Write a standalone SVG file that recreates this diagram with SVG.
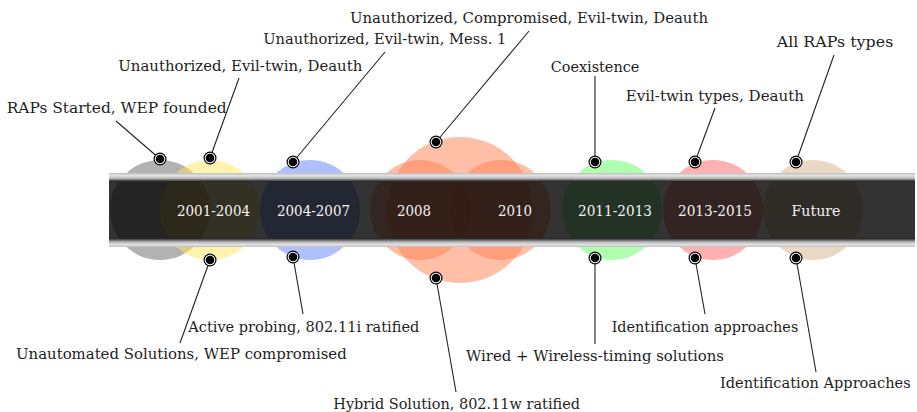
<svg xmlns="http://www.w3.org/2000/svg" width="917" height="412" viewBox="0 0 917 412">
<style>
.lbl{font-family:"DejaVu Serif","Liberation Serif",serif;font-size:14.5px;fill:#1e1e1e}
.yr{font-family:"DejaVu Serif","Liberation Serif",serif;font-size:14.5px;fill:#f2f2f2;text-anchor:middle}
.era{opacity:0.5}
.conn line{stroke:#222;stroke-width:1.1}
</style>
<defs>
<linearGradient id="topStrip" x1="0" y1="0" x2="0" y2="1">
<stop offset="0" stop-color="#bdbdbd"/>
<stop offset="0.3" stop-color="#e4e4e4"/>
<stop offset="0.6" stop-color="#b8b8b8"/>
<stop offset="0.85" stop-color="#4a4a4a"/>
<stop offset="1" stop-color="#151515"/>
</linearGradient>
<linearGradient id="botStrip" x1="0" y1="0" x2="0" y2="1">
<stop offset="0" stop-color="#151515"/>
<stop offset="0.15" stop-color="#4a4a4a"/>
<stop offset="0.45" stop-color="#b8b8b8"/>
<stop offset="0.75" stop-color="#e4e4e4"/>
<stop offset="1" stop-color="#bdbdbd"/>
</linearGradient>
<g id="dot">
<circle r="6.5" fill="#000"/>
<circle r="5.3" fill="#fff"/>
<circle r="4.3" fill="#000"/>
</g>
</defs>

<g id="eras">
<g id="era-start"><circle class="era" cx="160" cy="210" r="50" fill="#666"/></g>
<g id="era-2001-2004"><circle class="era" cx="210" cy="210" r="50" fill="#ffe760"/></g>
<g id="era-2004-2007"><circle class="era" cx="310" cy="210" r="50" fill="#6181ff"/></g>
<g id="era-2008-2010">
<circle class="era" cx="460" cy="210" r="73" fill="#ff8050"/>
<circle class="era" cx="420" cy="210" r="50" fill="#ff8050"/>
<circle class="era" cx="501" cy="210" r="50" fill="#ff8050"/>
</g>
<g id="era-2011-2013"><circle class="era" cx="612" cy="210" r="50" fill="#61ff61"/></g>
<g id="era-2013-2015"><circle class="era" cx="713" cy="210" r="50" fill="#ff6161"/></g>
<g id="era-future"><circle class="era" cx="813" cy="210" r="50" fill="#d5b189"/></g>
</g>

<g id="band">
<rect x="109" y="181" width="806" height="58" fill="#000" fill-opacity="0.8"/>
<rect x="109" y="173" width="806" height="9" fill="url(#topStrip)"/>
<rect x="109" y="238" width="806" height="9" fill="url(#botStrip)"/>
</g>

<g id="years">
<text class="yr" x="213.5" y="216" textLength="73" lengthAdjust="spacingAndGlyphs">2001-2004</text>
<text class="yr" x="313.5" y="216" textLength="73" lengthAdjust="spacingAndGlyphs">2004-2007</text>
<text class="yr" x="414" y="216" textLength="34" lengthAdjust="spacingAndGlyphs">2008</text>
<text class="yr" x="515" y="216" textLength="34" lengthAdjust="spacingAndGlyphs">2010</text>
<text class="yr" x="615" y="216" textLength="74" lengthAdjust="spacingAndGlyphs">2011-2013</text>
<text class="yr" x="715" y="216" textLength="74" lengthAdjust="spacingAndGlyphs">2013-2015</text>
<text class="yr" x="816" y="216" textLength="49" lengthAdjust="spacingAndGlyphs">Future</text>
</g>

<g id="connectors" class="conn">
<line x1="116" y1="121" x2="160" y2="159"/>
<line x1="239" y1="78" x2="210" y2="158"/>
<line x1="385" y1="52" x2="293" y2="162"/>
<line x1="529" y1="31" x2="436" y2="142"/>
<line x1="595" y1="76" x2="595" y2="162"/>
<line x1="715" y1="108" x2="695" y2="162"/>
<line x1="834" y1="55" x2="796" y2="162"/>
<line x1="210" y1="260" x2="180" y2="343"/>
<line x1="293" y1="257" x2="303" y2="314"/>
<line x1="436" y1="278" x2="456" y2="392"/>
<line x1="595" y1="258" x2="595" y2="344"/>
<line x1="695" y1="258" x2="705" y2="314"/>
<line x1="796" y1="258" x2="816" y2="372"/>
</g>

<g id="ev-raps-started"><use href="#dot" x="160" y="159"/><text class="lbl" x="6.7" y="113" textLength="220" lengthAdjust="spacingAndGlyphs">RAPs Started, WEP founded</text></g>
<g id="ev-2001-top"><use href="#dot" x="210" y="158"/><text class="lbl" x="118.3" y="71" textLength="244" lengthAdjust="spacingAndGlyphs">Unauthorized, Evil-twin, Deauth</text></g>
<g id="ev-2004-top"><use href="#dot" x="293" y="162"/><text class="lbl" x="263.3" y="44" textLength="243" lengthAdjust="spacingAndGlyphs">Unauthorized, Evil-twin, Mess. 1</text></g>
<g id="ev-2008-top"><use href="#dot" x="436" y="142"/><text class="lbl" x="350" y="23" textLength="358" lengthAdjust="spacingAndGlyphs">Unauthorized, Compromised, Evil-twin, Deauth</text></g>
<g id="ev-2011-top"><use href="#dot" x="595" y="162"/><text class="lbl" x="550.7" y="72" textLength="88.6" lengthAdjust="spacingAndGlyphs">Coexistence</text></g>
<g id="ev-2013-top"><use href="#dot" x="695" y="162"/><text class="lbl" x="625.7" y="101" textLength="178.3" lengthAdjust="spacingAndGlyphs">Evil-twin types, Deauth</text></g>
<g id="ev-future-top"><use href="#dot" x="796" y="162"/><text class="lbl" x="776.7" y="47" textLength="116.6" lengthAdjust="spacingAndGlyphs">All RAPs types</text></g>

<g id="ev-2001-bot"><use href="#dot" x="210" y="260"/><text class="lbl" x="16" y="359" textLength="330.7" lengthAdjust="spacingAndGlyphs">Unautomated Solutions, WEP compromised</text></g>
<g id="ev-2004-bot"><use href="#dot" x="293" y="257"/><text class="lbl" x="188.3" y="332" textLength="231" lengthAdjust="spacingAndGlyphs">Active probing, 802.11i ratified</text></g>
<g id="ev-2008-bot"><use href="#dot" x="436" y="278"/><text class="lbl" x="333.3" y="409" textLength="246.7" lengthAdjust="spacingAndGlyphs">Hybrid Solution, 802.11w ratified</text></g>
<g id="ev-2011-bot"><use href="#dot" x="595" y="258"/><text class="lbl" x="466" y="361" textLength="258" lengthAdjust="spacingAndGlyphs">Wired + Wireless-timing solutions</text></g>
<g id="ev-2013-bot"><use href="#dot" x="695" y="258"/><text class="lbl" x="611.7" y="332" textLength="186.6" lengthAdjust="spacingAndGlyphs">Identification approaches</text></g>
<g id="ev-future-bot"><use href="#dot" x="796" y="258"/><text class="lbl" x="720" y="388" textLength="190.7" lengthAdjust="spacingAndGlyphs">Identification Approaches</text></g>
</svg>
